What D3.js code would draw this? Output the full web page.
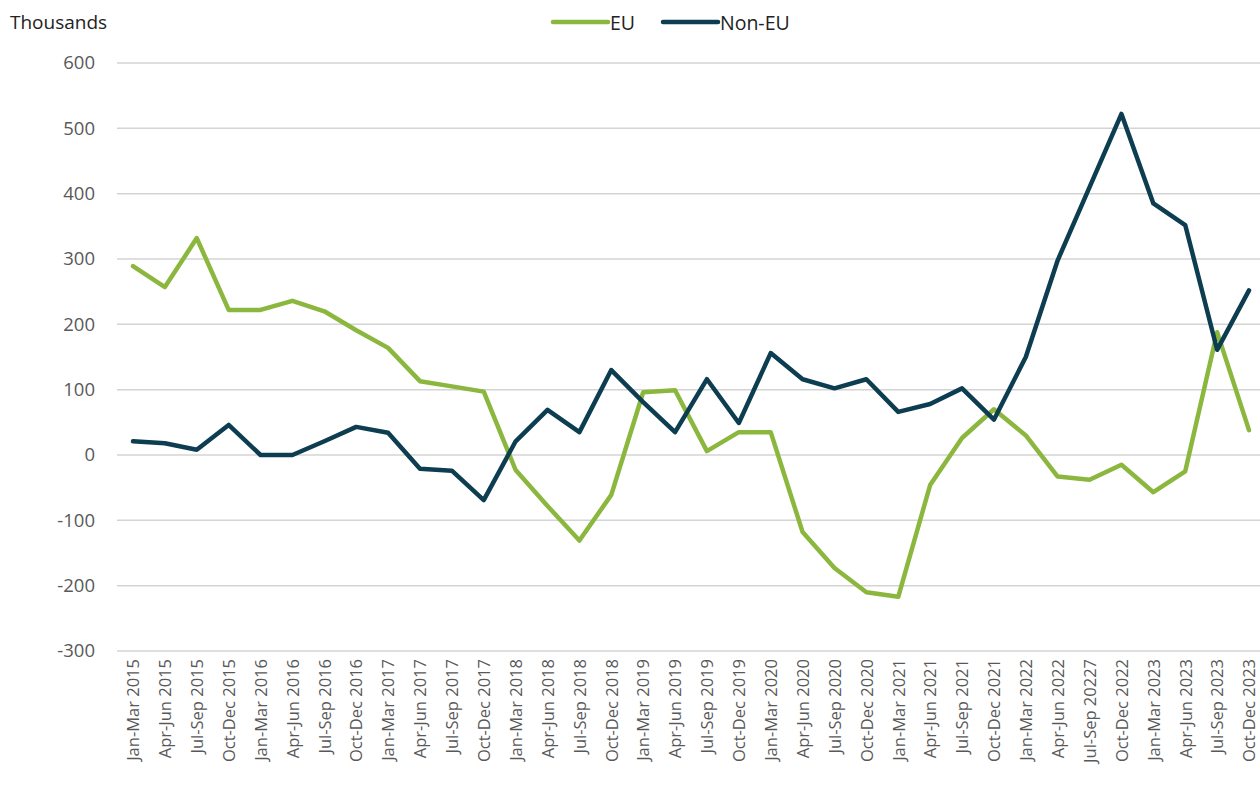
<!DOCTYPE html>
<html><head><meta charset="utf-8">
<script src="https://cdn.jsdelivr.net/npm/d3@7"></script>
<style>body{margin:0;background:#fff;}svg{display:block;}</style>
</head><body>
<svg id="c" width="1260" height="787"></svg>
<script>
const quarters = ["Jan-Mar 2015","Apr-Jun 2015","Jul-Sep 2015","Oct-Dec 2015","Jan-Mar 2016","Apr-Jun 2016","Jul-Sep 2016","Oct-Dec 2016","Jan-Mar 2017","Apr-Jun 2017","Jul-Sep 2017","Oct-Dec 2017","Jan-Mar 2018","Apr-Jun 2018","Jul-Sep 2018","Oct-Dec 2018","Jan-Mar 2019","Apr-Jun 2019","Jul-Sep 2019","Oct-Dec 2019","Jan-Mar 2020","Apr-Jun 2020","Jul-Sep 2020","Oct-Dec 2020","Jan-Mar 2021","Apr-Jun 2021","Jul-Sep 2021","Oct-Dec 2021","Jan-Mar 2022","Apr-Jun 2022","Jul-Sep 20227","Oct-Dec 2022","Jan-Mar 2023","Apr-Jun 2023","Jul-Sep 2023","Oct-Dec 2023"];
const euValues = [289,257,332,222,222,236,220,191,164,113,105,97,-23,-78,-131,-61,96,99,6,35,35,-118,-173,-210,-217,-46,26,70,30,-33,-38,-15,-57,-25,188,38];
const nonEuValues = [21,18,8,46,0,0,21,43,34,-21,-24,-69,21,69,35,130,81,35,116,49,156,116,102,116,66,78,102,54,150,298,410,522,385,352,161,252];
const yTicks = [-300,-200,-100,0,100,200,300,400,500,600];
const seriesNames = ["EU","Non-EU"];
const colors = ["#8cb73f","#0d3d50"];

const svg = d3.select("#c");
const font = "'Open Sans', 'Noto Sans', sans-serif";
const x = d3.scalePoint().domain(quarters).range([133, 1249]);
const y = d3.scaleLinear().domain([-300,600]).range([651, 63]);

// gridlines
svg.append("g").selectAll("line").data(yTicks).join("line")
  .attr("x1",117).attr("x2",1260)
  .attr("y1",d=>y(d)).attr("y2",d=>y(d))
  .attr("stroke","#d4d4d4").attr("stroke-width",1.5);

// y axis labels
const yAxis = d3.axisLeft(y).tickValues(yTicks).tickSize(0).tickPadding(0).tickFormat(d=>String(d));
const gy = svg.append("g").attr("transform","translate(95,0)").call(yAxis);
gy.select(".domain").remove();
gy.selectAll("text").attr("font-family",font).attr("font-size",18.5).attr("fill","#595959");

// x axis labels
const xAxis = d3.axisBottom(x).tickSize(0).tickPadding(0);
const gx = svg.append("g").attr("transform","translate(0,659)").call(xAxis);
gx.select(".domain").remove();
gx.selectAll("text").attr("font-family",font).attr("font-size",16.5).attr("fill","#595959")
  .attr("text-anchor","end").attr("transform","rotate(-90)")
  .attr("x",0).attr("y",0).attr("dy","0.35em");

// lines
const line = d3.line().x((d,i)=>x(quarters[i])).y(d=>y(d));
[euValues, nonEuValues].forEach((vals,k)=>{
  svg.append("path").datum(vals).attr("d",line).attr("fill","none")
    .attr("stroke",colors[k]).attr("stroke-width",4.5)
    .attr("stroke-linejoin","round").attr("stroke-linecap","round");
});

// title
svg.append("text").attr("x",10).attr("y",29).text("Thousands")
  .attr("font-family",font).attr("font-size",19).attr("fill","#222");

// legend
const legX = [553, 663];
seriesNames.forEach((n,k)=>{
  const g = svg.append("g").attr("transform",`translate(${legX[k]},22)`);
  g.append("line").attr("x1",0).attr("x2",55).attr("y1",0).attr("y2",0)
    .attr("stroke",colors[k]).attr("stroke-width",4.5).attr("stroke-linecap","round");
  g.append("text").attr("x",57).attr("y",1).attr("dy","0.35em").text(n)
    .attr("font-family",font).attr("font-size",19.5).attr("fill","#222");
});
</script>
</body></html>
